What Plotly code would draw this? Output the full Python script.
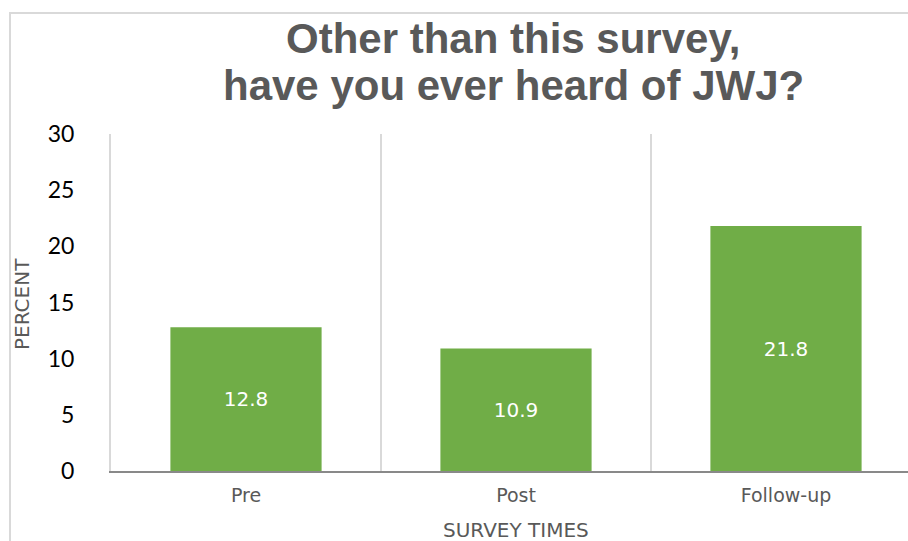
import plotly.graph_objects as go

# Survey responses: share who had heard of JWJ, by survey wave
categories = ["Pre", "Post", "Follow-up"]
percent = [12.8, 10.9, 21.8]
y_ticks = [0, 5, 10, 15, 20, 25, 30]

title_lines = ["Other than this survey,", "have you ever heard of JWJ?"]

W, H = 908, 541
L, R, T, B = 111, 0, 134, 70
plot_w = W - L - R
plot_h = H - T - B

def px_x(px):
    return (px - L) / plot_w

def px_y(py):
    return (H - B - py) / plot_h

GREEN = "#70AD47"
GRID = "#d9d9d9"
DARK = "#595959"

fig = go.Figure(
    go.Bar(
        x=categories,
        y=percent,
        marker=dict(color=GREEN, line=dict(width=0)),
        text=[f"{v:.1f}" for v in percent],
        textposition="inside",
        insidetextanchor="middle",
        textangle=0,
        textfont=dict(family="DejaVu Sans", size=20, color="white"),
        hoverinfo="x+y",
    )
)

fig.update_layout(
    width=W,
    height=H,
    margin=dict(l=L, r=R, t=T, b=B, pad=0),
    paper_bgcolor="white",
    plot_bgcolor="white",
    bargap=0.44,
    showlegend=False,
    uniformtext=dict(minsize=19, mode="show"),
)

# category axis: gridlines sit on the boundaries between the groups
fig.update_xaxes(
    type="category",
    range=[-0.5, -0.5 + plot_w / 270.0],
    tickson="boundaries",
    ticks="",
    showgrid=True,
    gridcolor=GRID,
    gridwidth=2,
    showline=True,
    linecolor="#898989",
    linewidth=2,
    tickfont=dict(family="DejaVu Sans", size=19, color=DARK),
    ticklabelstandoff=6,
    zeroline=False,
)

# value axis: the left boundary line shares the gridline colour
fig.update_yaxes(
    range=[0, 30],
    tickvals=y_ticks,
    ticktext=[str(v) for v in y_ticks],
    showgrid=False,
    zeroline=False,
    showline=True,
    linecolor=GRID,
    linewidth=2,
    ticks="",
    tickfont=dict(family="Lato", size=23, color="#000000"),
    ticklabelstandoff=30,
)

# two-line bold title
for text, cy in zip(title_lines, [39, 85]):
    fig.add_annotation(
        text=f"<b>{text}</b>",
        xref="paper", yref="paper",
        x=px_x(513), y=px_y(cy),
        xanchor="center", yanchor="middle",
        showarrow=False,
        font=dict(family="Liberation Sans", size=42, color=DARK),
    )

# axis titles
fig.add_annotation(
    text="PERCENT",
    xref="paper", yref="paper",
    x=px_x(22), y=px_y(304),
    xanchor="center", yanchor="middle",
    textangle=-90,
    showarrow=False,
    font=dict(family="DejaVu Sans", size=20, color=DARK),
)
fig.add_annotation(
    text="SURVEY TIMES",
    xref="x", yref="paper",
    x=1, y=px_y(530),
    xanchor="center", yanchor="middle",
    showarrow=False,
    font=dict(family="DejaVu Sans", size=20, color=DARK),
)

# outer chart frame (left and top edges)
fig.add_shape(
    type="path",
    xref="paper", yref="paper",
    path=f"M {px_x(10)} {px_y(560)} L {px_x(10)} {px_y(13)} L {px_x(930)} {px_y(13)}",
    line=dict(color=GRID, width=2),
    layer="below",
)

fig.write_html("out.html")
